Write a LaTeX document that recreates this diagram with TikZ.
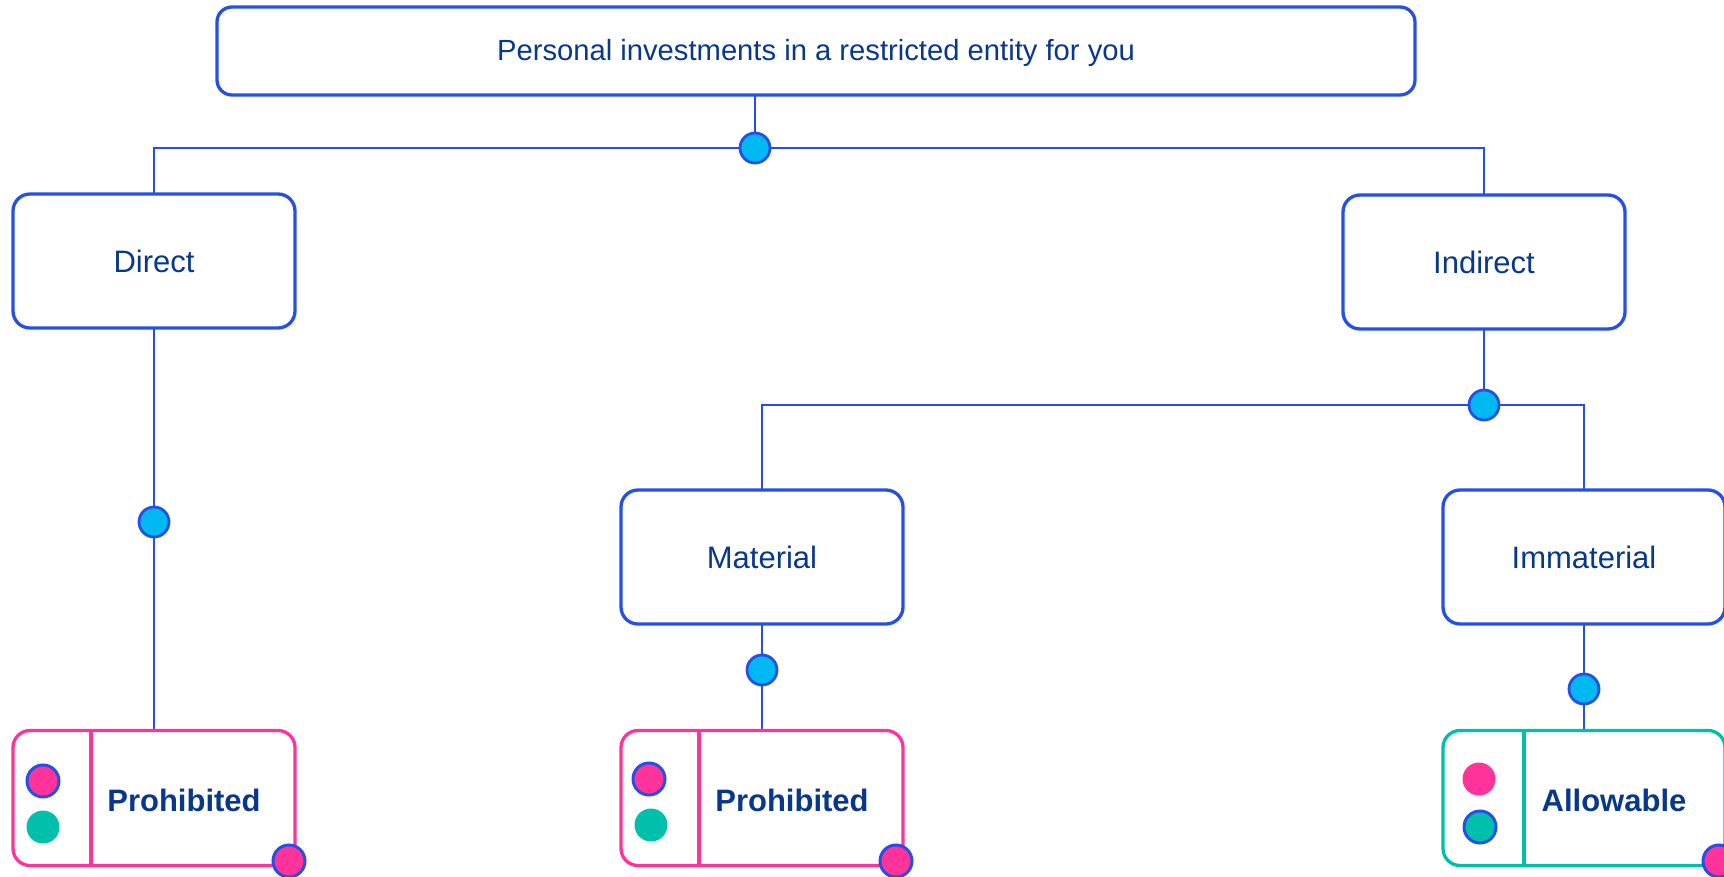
\documentclass[tikz,border=0pt]{standalone}
\usepackage{fontspec}
\setmainfont{Liberation Sans}
\usetikzlibrary{backgrounds}

\definecolor{edgeblue}{RGB}{38,80,228}
\definecolor{inkblue}{RGB}{8,56,140}
\definecolor{dotcyan}{RGB}{0,184,242}
\definecolor{hotpink}{RGB}{255,51,153}
\definecolor{seateal}{RGB}{0,192,172}

\tikzset{
  box/.style={draw=edgeblue, line width=3.3pt, rounded corners=17pt, fill=white,
    minimum width=282pt, minimum height=134pt, inner sep=0pt, outer sep=0pt,
    text=inkblue, font=\fontsize{31}{37}\selectfont},
  topbox/.style={box, minimum width=1198pt, minimum height=88pt, rounded corners=15pt},
  verdict/.style={box, minimum height=135pt},
  toptext/.style={inner sep=0pt, text=inkblue, font=\fontsize{29.2}{35}\selectfont},
  verdicttext/.style={inner sep=0pt, text=inkblue, font=\bfseries\fontsize{31}{37}\selectfont},
  junction/.style={circle, draw=edgeblue, fill=dotcyan, line width=2.8pt,
    minimum size=30pt, inner sep=0pt},
  link/.style={draw=edgeblue, line width=2.1pt},
  divider/.style={line width=3.3pt},
  badge/.style={circle, minimum size=32pt, inner sep=0pt},
  pinkring/.style={badge, fill=hotpink, draw=edgeblue, line width=3pt},
  tealring/.style={badge, fill=seateal, draw=edgeblue, line width=3pt},
  pinkdot/.style={badge, fill=hotpink, minimum size=33pt},
  tealdot/.style={badge, fill=seateal, minimum size=33pt},
}

\begin{document}
\begin{tikzpicture}[x=1pt, y=-1pt]
  \useasboundingbox (0,0) rectangle (1724,877);

  % decision boxes
  \node[topbox] (root) at (816,51) {};
  \node[toptext] (roottext) at (816,53) {Personal investments in a restricted entity for you};
  \node[box] (direct) at (154,261) {Direct};
  \node[box] (indirect) at (1484,262) {Indirect};
  \node[box] (material) at (762,557) {Material};
  \node[box] (immaterial) at (1584,557) {Immaterial};

  % outcome boxes
  \node[verdict, draw=hotpink] (outA) at (154,798) {};
  \node[verdict, draw=hotpink] (outB) at (762,798) {};
  \node[verdict, draw=seateal] (outC) at (1584,798) {};
  \draw[divider, hotpink] (91,731) -- (91,866);
  \draw[divider, hotpink] (699,731) -- (699,866);
  \draw[divider, seateal] (1524,731) -- (1524,866);
  \node[verdicttext] (labA) at (184,800) {Prohibited};
  \node[verdicttext] (labB) at (792,800) {Prohibited};
  \node[verdicttext] (labC) at (1614,800) {Allowable};

  % status markers
  \node[pinkring] (a1) at (43,781) {};
  \node[tealdot] (a2) at (43,827) {};
  \node[pinkring] (b1) at (649,779) {};
  \node[tealdot] (b2) at (651,825) {};
  \node[pinkdot] (c1) at (1479,779) {};
  \node[tealring] (c2) at (1480,827) {};
  \node[pinkring] (a3) at (289,861) {};
  \node[pinkring] (b3) at (896,861) {};
  \node[pinkring] (c3) at (1719,861) {};

  % junctions
  \node[junction] (j0) at (755,148) {};
  \node[junction] (jd) at (154,522) {};
  \node[junction] (ji) at (1484,405) {};
  \node[junction] (jm) at (762,670) {};
  \node[junction] (jim) at (1584,689) {};

  % connectors
  \begin{scope}[on background layer]
    \draw[link] (j0 |- root.south) -- (j0);
    \draw[link] (j0) -| (direct.north);
    \draw[link] (j0) -| (indirect.north);
    \draw[link] (direct.south) -- (jd) -- (outA.north);
    \draw[link] (indirect.south) -- (ji);
    \draw[link] (ji) -| (material.north);
    \draw[link] (ji) -| (immaterial.north);
    \draw[link] (material.south) -- (jm) -- (outB.north);
    \draw[link] (immaterial.south) -- (jim) -- (outC.north);
  \end{scope}
\end{tikzpicture}
\end{document}
